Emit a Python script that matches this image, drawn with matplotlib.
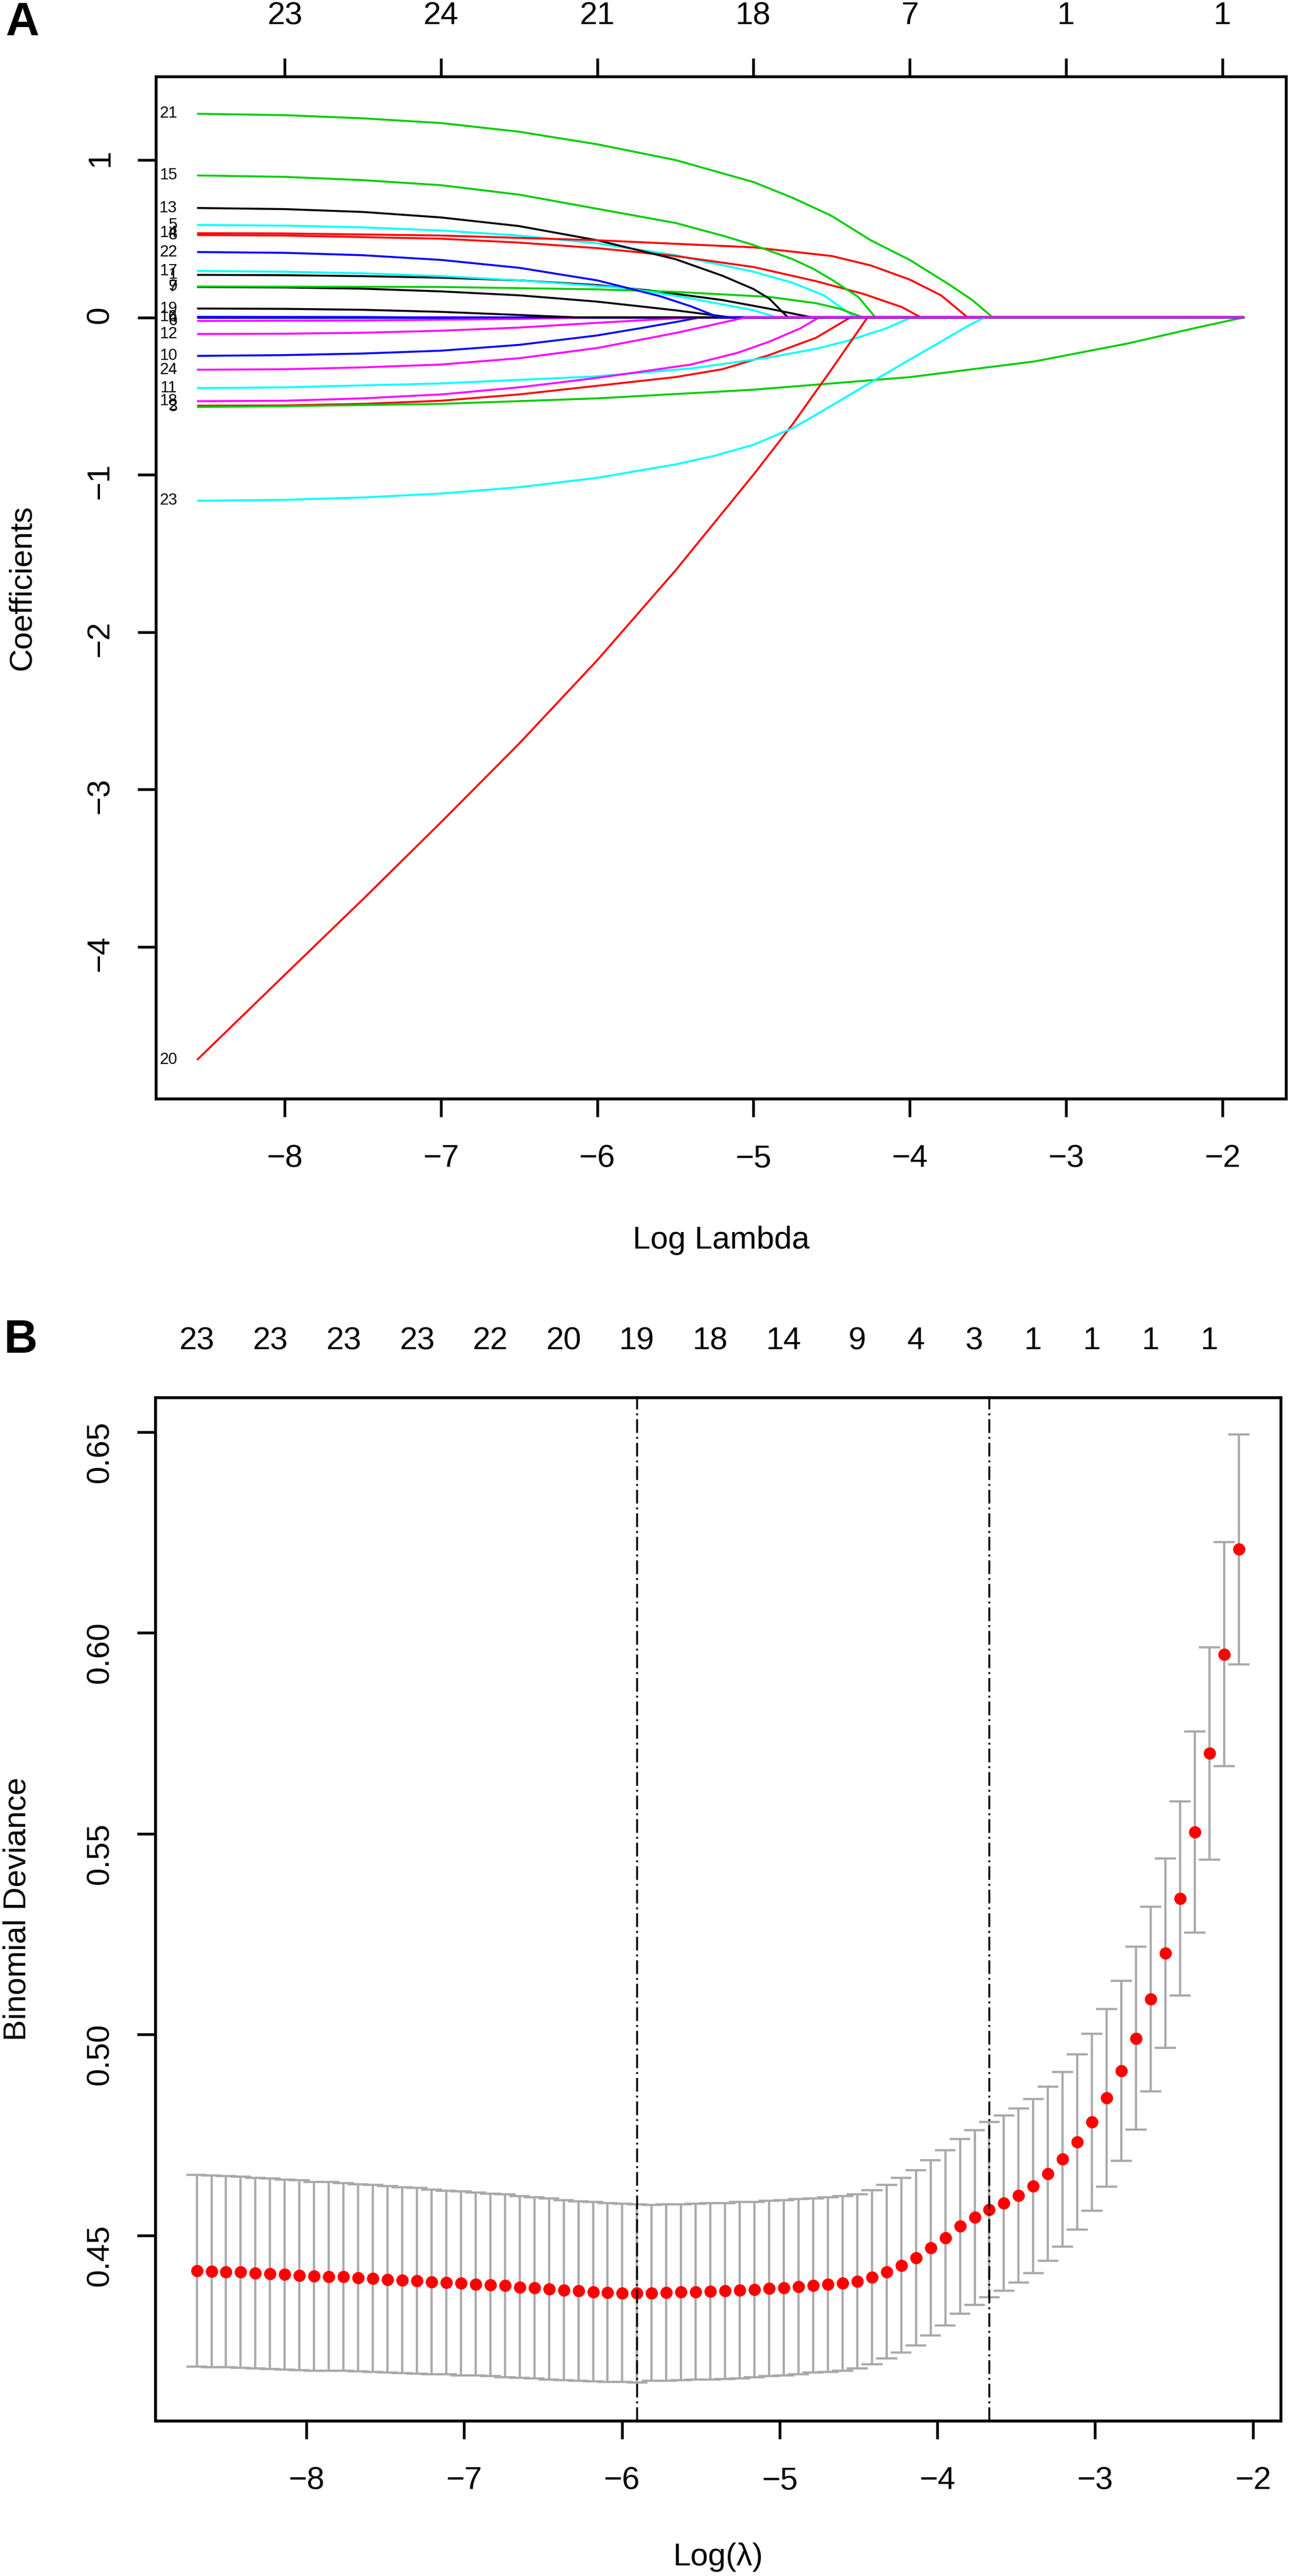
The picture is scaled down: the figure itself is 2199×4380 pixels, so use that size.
import matplotlib
matplotlib.use("Agg")
import matplotlib.pyplot as plt

plt.rcParams['font.family'] = ['Liberation Sans', 'DejaVu Sans']

W, H, DPI = 2199, 4380, 300

# -------------------------------
# Panel A: coefficient paths, (log lambda, coefficient) knots
# -------------------------------
path_1 = [(-8.56, 0.270), (-8.0, 0.268), (-7.5, 0.262), (-7.0, 0.252), (-6.5, 0.235), (-6.0, 0.205), (-5.64, 0.168), (-5.2, 0.11), (-4.9, 0.055), (-4.63, 0.0), (-1.86, 0.0)]
path_2 = [(-8.56, -0.562), (-8.0, -0.560), (-7.5, -0.55), (-7.0, -0.53), (-6.5, -0.49), (-6.0, -0.435), (-5.5, -0.38), (-5.2, -0.33), (-4.9, -0.24), (-4.6, -0.13), (-4.38, 0.0), (-1.86, 0.0)]
path_3 = [(-8.56, -0.570), (-8.0, -0.565), (-7.0, -0.55), (-6.0, -0.515), (-5.0, -0.46), (-4.0, -0.38), (-3.2, -0.28), (-2.6, -0.165), (-2.17, -0.067), (-1.86, 0.0)]
path_4 = [(-8.56, 0.0), (-1.86, 0.0)]
path_5 = [(-8.56, 0.587), (-8.0, 0.583), (-7.5, 0.572), (-7.0, 0.552), (-6.5, 0.52), (-6.0, 0.47), (-5.5, 0.395), (-5.0, 0.29), (-4.75, 0.22), (-4.55, 0.14), (-4.35, 0.0), (-1.86, 0.0)]
path_6 = [(-8.56, -0.023), (-7.5, -0.02), (-6.5, -0.01), (-6.0, 0.0), (-1.86, 0.0)]
path_7 = [(-8.56, 0.193), (-8.0, 0.190), (-7.5, 0.182), (-7.0, 0.165), (-6.5, 0.14), (-6.0, 0.10), (-5.5, 0.045), (-5.15, 0.0), (-1.86, 0.0)]
path_8 = [(-8.56, 0.523), (-8.0, 0.52), (-7.0, 0.50), (-6.5, 0.475), (-6.0, 0.44), (-5.5, 0.39), (-5.0, 0.32), (-4.6, 0.23), (-4.3, 0.15), (-4.05, 0.065), (-3.93, 0.0), (-1.86, 0.0)]
path_9 = [(-8.56, 0.196), (-7.0, 0.193), (-6.0, 0.178), (-5.5, 0.162), (-4.9, 0.13), (-4.6, 0.09), (-4.45, 0.055), (-4.3, 0.0), (-1.86, 0.0)]
path_10 = [(-8.56, -0.245), (-8.0, -0.24), (-7.5, -0.23), (-7.0, -0.212), (-6.5, -0.175), (-6.0, -0.115), (-5.7, -0.065), (-5.5, -0.03), (-5.34, 0.0), (-1.86, 0.0)]
path_11 = [(-8.56, -0.450), (-8.0, -0.445), (-7.0, -0.42), (-6.0, -0.375), (-5.4, -0.325), (-4.9, -0.255), (-4.6, -0.2), (-4.4, -0.15), (-4.15, -0.07), (-3.99, 0.0), (-1.86, 0.0)]
path_12 = [(-8.56, -0.106), (-8.0, -0.104), (-7.5, -0.098), (-7.0, -0.085), (-6.5, -0.065), (-6.0, -0.035), (-5.6, -0.012), (-5.34, 0.0), (-1.86, 0.0)]
path_13 = [(-8.56, 0.695), (-8.0, 0.688), (-7.5, 0.67), (-7.0, 0.635), (-6.5, 0.58), (-6.0, 0.49), (-5.5, 0.37), (-5.2, 0.265), (-5.0, 0.18), (-4.9, 0.12), (-4.78, 0.0), (-1.86, 0.0)]
path_14 = [(-8.56, 0.535), (-8.0, 0.533), (-7.0, 0.52), (-6.0, 0.49), (-5.0, 0.445), (-4.5, 0.39), (-4.25, 0.33), (-4.0, 0.24), (-3.8, 0.14), (-3.63, 0.0), (-1.86, 0.0)]
path_15 = [(-8.56, 0.902), (-8.0, 0.893), (-7.5, 0.872), (-7.0, 0.84), (-6.5, 0.78), (-6.0, 0.69), (-5.5, 0.60), (-5.2, 0.52), (-5.0, 0.46), (-4.75, 0.37), (-4.62, 0.31), (-4.5, 0.24), (-4.33, 0.13), (-4.22, 0.0), (-1.86, 0.0)]
path_16 = [(-8.56, 0.003), (-7.5, 0.002), (-7.2, 0.0), (-1.86, 0.0)]
path_17 = [(-8.56, 0.295), (-8.0, 0.29), (-7.5, 0.28), (-7.0, 0.262), (-6.5, 0.235), (-5.8, 0.185), (-5.4, 0.12), (-5.0, 0.045), (-4.85, 0.0), (-1.86, 0.0)]
path_18 = [(-8.56, -0.533), (-8.0, -0.53), (-7.5, -0.515), (-7.0, -0.49), (-6.5, -0.445), (-6.0, -0.385), (-5.4, -0.30), (-5.1, -0.225), (-4.9, -0.155), (-4.7, -0.07), (-4.58, 0.0), (-1.86, 0.0)]
path_19 = [(-8.56, 0.056), (-8.0, 0.054), (-7.5, 0.048), (-7.0, 0.035), (-6.5, 0.015), (-6.14, 0.0), (-1.86, 0.0)]
path_20 = [(-8.56, -4.72), (-8.0, -4.18), (-7.5, -3.70), (-7.0, -3.21), (-6.5, -2.71), (-6.0, -2.18), (-5.5, -1.61), (-5.0, -1.0), (-4.75, -0.68), (-4.5, -0.33), (-4.27, 0.0), (-1.86, 0.0)]
path_21 = [(-8.56, 1.294), (-8.0, 1.285), (-7.5, 1.265), (-7.0, 1.235), (-6.5, 1.18), (-6.0, 1.10), (-5.5, 1.0), (-5.0, 0.86), (-4.75, 0.76), (-4.5, 0.645), (-4.25, 0.49), (-4.0, 0.365), (-3.75, 0.21), (-3.6, 0.11), (-3.47, 0.0), (-1.86, 0.0)]
path_22 = [(-8.56, 0.415), (-8.0, 0.41), (-7.5, 0.395), (-7.0, 0.365), (-6.5, 0.315), (-6.0, 0.235), (-5.6, 0.135), (-5.4, 0.07), (-5.22, 0.0), (-1.86, 0.0)]
path_23 = [(-8.56, -1.166), (-8.0, -1.16), (-7.5, -1.145), (-7.0, -1.12), (-6.5, -1.08), (-6.0, -1.02), (-5.5, -0.935), (-5.25, -0.88), (-5.0, -0.81), (-4.75, -0.705), (-4.55, -0.59), (-4.21, -0.39), (-3.88, -0.20), (-3.62, -0.05), (-3.52, 0.0), (-1.86, 0.0)]
path_24 = [(-8.56, -0.333), (-8.0, -0.33), (-7.5, -0.318), (-7.0, -0.30), (-6.5, -0.26), (-6.0, -0.195), (-5.5, -0.10), (-5.25, -0.045), (-5.05, 0.0), (-1.86, 0.0)]

paths = [path_1, path_2, path_3, path_4, path_5, path_6, path_7, path_8,
         path_9, path_10, path_11, path_12, path_13, path_14, path_15, path_16,
         path_17, path_18, path_19, path_20, path_21, path_22, path_23, path_24]

a_ticks = [-8, -7, -6, -5, -4, -3, -2]
a_top_labels = ['23', '24', '21', '18', '7', '1', '1']
a_yticks = [-4, -3, -2, -1, 0, 1]

# -------------------------------
# Panel B: cross-validation curve
# -------------------------------
log_lambda = [-8.695, -8.602, -8.509, -8.416, -8.323, -8.230, -8.137, -8.044, -7.951, -7.858,
              -7.765, -7.672, -7.578, -7.485, -7.392, -7.299, -7.206, -7.113, -7.020, -6.927,
              -6.834, -6.741, -6.648, -6.555, -6.462, -6.369, -6.276, -6.183, -6.090, -5.997,
              -5.904, -5.811, -5.718, -5.625, -5.532, -5.439, -5.346, -5.253, -5.160, -5.066,
              -4.973, -4.880, -4.787, -4.694, -4.601, -4.508, -4.415, -4.322, -4.229, -4.136,
              -4.043, -3.950, -3.857, -3.764, -3.671, -3.578, -3.485, -3.392, -3.299, -3.206,
              -3.113, -3.020, -2.927, -2.834, -2.741, -2.648, -2.555, -2.461, -2.368, -2.275,
              -2.182, -2.089]
cv_mean = [0.4412, 0.4411, 0.4410, 0.4409, 0.4407, 0.4405, 0.4403, 0.4401, 0.4399, 0.4398,
           0.4397, 0.4395, 0.4393, 0.4391, 0.4389, 0.4387, 0.4385, 0.4383, 0.4381, 0.4379,
           0.4377, 0.4375, 0.4372, 0.4370, 0.4367, 0.4364, 0.4362, 0.4360, 0.4358, 0.4357,
           0.4356, 0.4357, 0.4358, 0.4359, 0.4360, 0.4361, 0.4362, 0.4364, 0.4366, 0.4368,
           0.4370, 0.4373, 0.4376, 0.4378, 0.4381, 0.4386, 0.4396, 0.4410, 0.4426, 0.4445,
           0.4469, 0.4494, 0.4523, 0.4545, 0.4564, 0.4580, 0.4600, 0.4623, 0.4654, 0.4690,
           0.4733, 0.4782, 0.4842, 0.4910, 0.4991, 0.5088, 0.5203, 0.5339, 0.5504, 0.5700,
           0.5947, 0.6208]
cv_sd = [0.0239, 0.0239, 0.0238, 0.0238, 0.0237, 0.0237, 0.0236, 0.0236, 0.0235, 0.0235,
         0.0234, 0.0233, 0.0233, 0.0232, 0.0231, 0.0231, 0.0230, 0.0229, 0.0229, 0.0228,
         0.0227, 0.0227, 0.0226, 0.0225, 0.0225, 0.0224, 0.0223, 0.0223, 0.0222, 0.0222,
         0.0222, 0.0219, 0.0219, 0.0219, 0.0219, 0.0219, 0.0219, 0.0219, 0.0218, 0.0218,
         0.0218, 0.0218, 0.0217, 0.0217, 0.0217, 0.0217, 0.0217, 0.0216, 0.0217, 0.0218,
         0.0218, 0.0218, 0.0217, 0.0217, 0.0218, 0.0218, 0.0217, 0.0217, 0.0217, 0.0217,
         0.0218, 0.0220, 0.0221, 0.0224, 0.0228, 0.0230, 0.0236, 0.0241, 0.0250, 0.0264,
         0.0279, 0.0286]
idx_min = 30
idx_1se = 54
b_top_idx = [0, 5, 10, 15, 20, 25, 30, 35, 40, 45, 49, 53, 57, 61, 65, 69]
b_top_labels = ['23', '23', '23', '23', '22', '20', '19', '18', '14', '9', '4', '3', '1', '1', '1', '1']
b_xticks = [-8, -7, -6, -5, -4, -3, -2]
b_yticks = [0.45, 0.50, 0.55, 0.60, 0.65]

palette = ['black', 'red', '#00CD00', 'blue', 'cyan', 'magenta']

fig = plt.figure(figsize=(W / DPI, H / DPI), dpi=DPI)


def px_axes(x0, y0, x1, y1):
    return fig.add_axes([x0 / W, 1 - y1 / H, (x1 - x0) / W, (y1 - y0) / H])


def style_axes(ax):
    for s in ax.spines.values():
        s.set_linewidth(1.1)
    ax.tick_params(length=7.5, width=1.1, pad=11, labelsize=13, direction='out')


def minus(v):
    return str(v).replace('-', '\u2212')


# -------------------------------
# Draw panel A
# -------------------------------
axA = px_axes(264.5, 129.5, 2187, 1868)
for i, p in enumerate(paths):
    xs = [q[0] for q in p]
    ys = [q[1] for q in p]
    axA.plot(xs, ys, color=palette[i % 6], lw=0.8, solid_capstyle='butt')
    axA.annotate(str(i + 1), (xs[0], ys[0]), xytext=(-8, 0), textcoords='offset points',
                 ha='right', va='center', fontsize=6.5)
axA.set_xlim(-8.826, -1.593)
axA.set_ylim(-4.966, 1.533)
axA.set_xticks(a_ticks)
axA.set_xticklabels([minus(t) for t in a_ticks])
axA.set_yticks(a_yticks)
axA.set_yticklabels([minus(t) for t in a_yticks])
topA = axA.twiny()
topA.set_xlim(axA.get_xlim())
topA.set_xticks(a_ticks)
topA.set_xticklabels(a_top_labels)
style_axes(axA)
style_axes(topA)
axA.tick_params(axis='y', labelrotation=90, pad=9)

fig.text(1226 / W, 1 - 2109 / H, 'Log Lambda', ha='center', va='center', fontsize=13)
fig.text(38 / W, 1 - 999 / H, 'Coefficients', ha='center', va='center', fontsize=13, rotation=90)
fig.text(38 / W, 1 - 39 / H, 'A', ha='center', va='center', fontsize=19, fontweight='bold')

# -------------------------------
# Draw panel B
# -------------------------------
axB = px_axes(264, 2376, 2178, 4116)
upper = [m + s for m, s in zip(cv_mean, cv_sd)]
lower = [m - s for m, s in zip(cv_mean, cv_sd)]
barw = (max(log_lambda) - min(log_lambda)) * 0.01
grey = '#A9A9A9'
axB.vlines(log_lambda, lower, upper, color=grey, lw=0.9)
axB.hlines(upper, [x - barw for x in log_lambda], [x + barw for x in log_lambda], color=grey, lw=0.9)
axB.hlines(lower, [x - barw for x in log_lambda], [x + barw for x in log_lambda], color=grey, lw=0.9)
axB.plot(log_lambda, cv_mean, 'o', color='red', ms=5.0, mec='none')
for k in (idx_min, idx_1se):
    axB.axvline(log_lambda[k], color='black', lw=0.8, ls=(0, (7, 2, 1, 2)))
axB.set_xlim(-8.958, -1.824)
axB.set_ylim(0.4039, 0.6586)
axB.set_xticks(b_xticks)
axB.set_xticklabels([minus(t) for t in b_xticks])
axB.set_yticks(b_yticks)
axB.set_yticklabels(['%.2f' % t for t in b_yticks])
topB = axB.twiny()
topB.set_xlim(axB.get_xlim())
topB.set_xticks([log_lambda[k] for k in b_top_idx])
topB.set_xticklabels(b_top_labels)
style_axes(axB)
style_axes(topB)
axB.tick_params(axis='y', labelrotation=90, pad=9)
topB.tick_params(axis='x', length=0, pad=17)

fig.text(1221 / W, 1 - 4348 / H, 'Log(\u03bb)', ha='center', va='center', fontsize=13)
fig.text(30 / W, 1 - 3246 / H, 'Binomial Deviance', ha='center', va='center', fontsize=13, rotation=90)
fig.text(35 / W, 1 - 2280 / H, 'B', ha='center', va='center', fontsize=19, fontweight='bold')

fig.savefig('out.png', dpi=DPI, facecolor='white')
